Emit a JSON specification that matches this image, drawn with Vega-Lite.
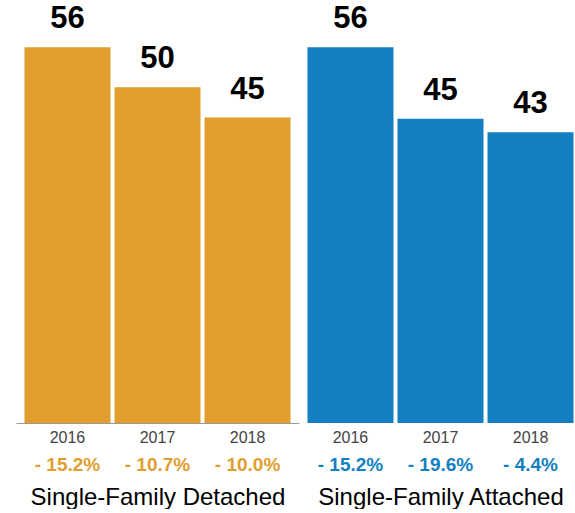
{
  "$schema": "https://vega.github.io/schema/vega-lite/v6.json",
  "padding": {"left": 16, "top": 0, "right": 0, "bottom": 0},
  "background": "white",
  "config": {"view": {"stroke": null}, "font": "Liberation Sans", "concat": {"spacing": 0}},
  "data": {"values": [
    {"type": "Single-Family Detached", "year": "2016", "value": 55.95, "change": "- 15.2%"},
    {"type": "Single-Family Detached", "year": "2017", "value": 50.0, "change": "- 10.7%"},
    {"type": "Single-Family Detached", "year": "2018", "value": 45.49, "change": "- 10.0%"},
    {"type": "Single-Family Attached", "year": "2016", "value": 55.95, "change": "- 15.2%"},
    {"type": "Single-Family Attached", "year": "2017", "value": 45.3, "change": "- 19.6%"},
    {"type": "Single-Family Attached", "year": "2018", "value": 43.3, "change": "- 4.4%"}
  ]},
  "spacing": 0,
  "hconcat": [
    {
      "width": 283, "height": 423,
      "transform": [{"filter": "datum.type === 'Single-Family Detached'"}],
      "encoding": {
        "x": {"field": "year", "type": "nominal",
          "scale": {"paddingInner": 0.0444, "paddingOuter": 0.094},
          "axis": {"title": "Single-Family Detached", "domain": true, "domainColor": "#999", "ticks": false,
            "labelAngle": 0, "labelFontSize": 16, "labelColor": "#444", "labelPadding": 6,
            "titleFontSize": 24, "titleFontWeight": "normal", "titleColor": "#000", "titlePadding": 40}}
      },
      "layer": [
        {"mark": {"type": "bar", "color": "#E19E2E"},
         "encoding": {"y": {"field": "value", "type": "quantitative", "scale": {"domain": [0, 63], "nice": false}, "axis": null}}},
        {"mark": {"type": "text", "fontSize": 31, "fontWeight": "bold", "baseline": "alphabetic", "dy": -19, "color": "#000"},
         "encoding": {"y": {"field": "value", "type": "quantitative"}, "text": {"field": "value", "type": "quantitative", "format": ".0f"}}},
        {"mark": {"type": "text", "fontSize": 19, "fontWeight": "bold", "baseline": "alphabetic", "dy": 48, "color": "#E19E2E"},
         "encoding": {"y": {"datum": 0, "type": "quantitative"}, "text": {"field": "change", "type": "nominal"}}}
      ]
    },
    {
      "width": 283, "height": 423,
      "transform": [{"filter": "datum.type === 'Single-Family Attached'"}],
      "encoding": {
        "x": {"field": "year", "type": "nominal",
          "scale": {"paddingInner": 0.0444, "paddingOuter": 0.094},
          "axis": {"title": "Single-Family Attached", "domain": false, "ticks": false,
            "labelAngle": 0, "labelFontSize": 16, "labelColor": "#444", "labelPadding": 6,
            "titleFontSize": 24, "titleFontWeight": "normal", "titleColor": "#000", "titlePadding": 40}}
      },
      "layer": [
        {"mark": {"type": "bar", "color": "#137FC0"},
         "encoding": {"y": {"field": "value", "type": "quantitative", "scale": {"domain": [0, 63], "nice": false}, "axis": null}}},
        {"mark": {"type": "text", "fontSize": 31, "fontWeight": "bold", "baseline": "alphabetic", "dy": -19, "color": "#000"},
         "encoding": {"y": {"field": "value", "type": "quantitative"}, "text": {"field": "value", "type": "quantitative", "format": ".0f"}}},
        {"mark": {"type": "text", "fontSize": 19, "fontWeight": "bold", "baseline": "alphabetic", "dy": 48, "color": "#137FC0"},
         "encoding": {"y": {"datum": 0, "type": "quantitative"}, "text": {"field": "change", "type": "nominal"}}}
      ]
    }
  ]
}
